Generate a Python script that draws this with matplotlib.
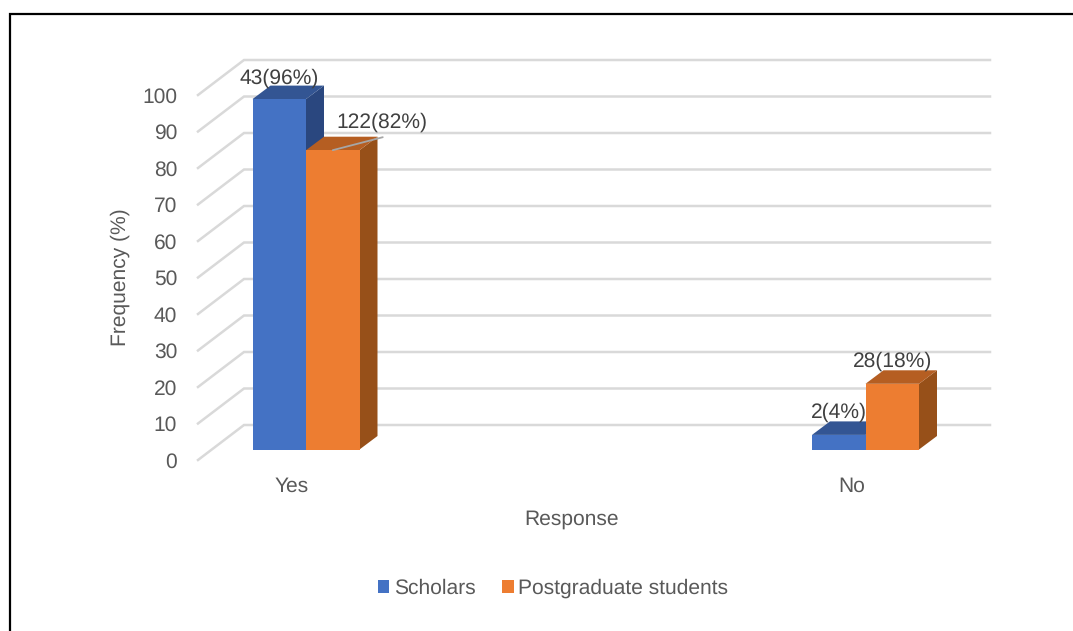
import numpy as np
import matplotlib
matplotlib.use("Agg")
import matplotlib.pyplot as plt
from matplotlib.patches import Polygon, Rectangle
from matplotlib.lines import Line2D

plt.rcParams['font.family'] = ['Liberation Sans', 'DejaVu Sans']
plt.rcParams['text.hinting'] = 'no_hinting'
plt.rcParams['text.hinting_factor'] = 1

categories = ["Yes", "No"]
scholars = [96, 4]
postgrad = [82, 18]
scholars_labels = ["43(96%)", "2(4%)"]
postgrad_labels = ["122(82%)", "28(18%)"]
ticks = list(range(0, 101, 10))

W, H = 1073, 631
fig = plt.figure(figsize=(W/100, H/100), dpi=100)
L, R, T, B = 198, 990, 60, 460
ax = fig.add_axes([L/W, 1-B/H, (R-L)/W, (B-T)/H])

# pixel scales
ppu_y = 3.65
x0_px, x1_px = 306, 865.5
ppu_x = x1_px - x0_px
ax.set_xlim((L-x0_px)/ppu_x, (R-x0_px)/ppu_x)
y_front = (449.5-B)/ppu_y
ax.set_ylim(y_front, y_front + (B-T)/ppu_y)

wall_dx = 46/ppu_x
wall_dy = 35/ppu_y
bar_w = 53.5/ppu_x
dep_x = 18/ppu_x
dep_y = 13.5/ppu_y
left = ax.get_xlim()[0]
right = ax.get_xlim()[1]

GRID = '#D9D9D9'
for t in ticks:
    yf = t + y_front
    ax.plot([left, left+wall_dx, right], [yf, yf+wall_dy, yf+wall_dy],
            color=GRID, lw=1.8, zorder=1, clip_on=False, solid_joinstyle='miter')

def bar3d(x, w, v, front, top, side, z):
    ax.add_patch(Polygon([(x+w, 0), (x+w+dep_x, dep_y), (x+w+dep_x, v+dep_y), (x+w, v)],
                         closed=True, fc=side, ec='none', zorder=z))
    ax.add_patch(Polygon([(x, v), (x+dep_x, v+dep_y), (x+w+dep_x, v+dep_y), (x+w, v)],
                         closed=True, fc=top, ec='none', zorder=z))
    ax.bar(x, v, w, align='edge', color=front, zorder=z+0.1)

xs = np.arange(len(categories))
for i in xs:
    bar3d(i-bar_w, bar_w, scholars[i], '#4472C4', '#335593', '#2A477F', 3)
    bar3d(i, bar_w, postgrad[i], '#ED7D31', '#B55E22', '#975019', 4)

TXT = '#404040'
fs = 15.4
off_s = [(0, 21), (0, 23)]
off_p = [(49.5, 28), (0, 23)]
for i in xs:
    ax.annotate(scholars_labels[i], (i-bar_w/2, scholars[i]), xytext=off_s[i],
                textcoords='offset pixels', ha='center', va='center',
                fontsize=fs, color=TXT, zorder=6)
    ax.annotate(postgrad_labels[i], (i+bar_w/2, postgrad[i]), xytext=off_p[i],
                textcoords='offset pixels', ha='center', va='center',
                fontsize=fs, color=TXT, zorder=6)
# leader line of the 122(82%) label
ax.annotate("", (bar_w/2, postgrad[0]), xytext=(50, 13), textcoords='offset pixels',
            arrowprops=dict(arrowstyle='-', color='#A6A6A6', lw=1.3, shrinkA=0, shrinkB=0), zorder=6)

ax.set_yticks([t + y_front for t in ticks], [str(t) for t in ticks])
ax.set_xticks(xs - 14/ppu_x, categories)
ax.tick_params(axis='both', length=0, labelsize=fs, labelcolor='#595959')
ax.tick_params(axis='y', pad=15)
ax.tick_params(axis='x', pad=12)
for s in ax.spines.values():
    s.set_visible(False)
ax.patch.set_alpha(0)

fig.text(572/W, 1-519/H, "Response", ha='center', va='center', fontsize=fs, color='#595959')
fig.text(120/W, 1-277/H, "Frequency (%)", ha='center', va='center', rotation=90, fontsize=fs, color='#595959')

handles = [Rectangle((0, 0), 1, 1, fc='#4472C4'), Rectangle((0, 0), 1, 1, fc='#ED7D31')]
leg = fig.legend(handles, ["Scholars", "Postgraduate students"], loc='center',
                 bbox_to_anchor=(553/W, 1-588.5/H), ncol=2, frameon=False, fontsize=fs,
                 labelcolor='#595959', handlelength=0.54, handleheight=0.54,
                 handletextpad=0.2, columnspacing=1.25)

fig.add_artist(Line2D([10/W, 10/W, 1], [0, 1-14/H, 1-14/H], color='black', lw=1.6,
                      transform=fig.transFigure, solid_joinstyle='miter'))
fig.savefig('out.png', dpi=100)
